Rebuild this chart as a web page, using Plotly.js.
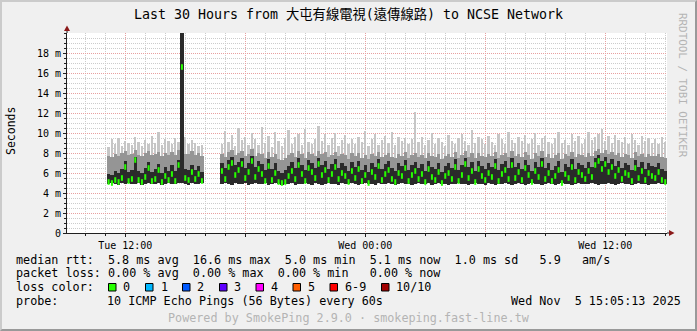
<!DOCTYPE html>
<html><head><meta charset="utf-8">
<script src="https://cdn.plot.ly/plotly-3.0.1.min.js"></script>
<style>
html,body{margin:0;padding:0;background:#f0f0f0;}
#wrap{position:relative;width:697px;height:331px;overflow:hidden;}
#chart{width:697px;height:331px;}
#frame{position:absolute;left:0;top:0;width:697px;height:331px;box-sizing:border-box;border-top:2px solid #cbcbcb;border-left:2px solid #cbcbcb;border-right:2px solid #999999;border-bottom:2px solid #999999;pointer-events:none;}
</style></head>
<body><div id="wrap"><div id="chart"></div><div id="frame"></div></div>
<script>
// ---------- sample times (RRD rows, 10 min) ----------
const tueTimes = [
'11:10','11:20','11:30','11:40','11:50',
'12:00','12:10','12:20','12:30','12:40','12:50',
'13:00','13:10','13:20','13:30','13:40','13:50',
'14:00','14:10','14:20','14:30','14:40','14:50',
'15:00','15:10','15:20','15:30','15:40','15:50',
'16:50',
'17:00','17:10','17:20','17:30','17:40','17:50',
'18:00','18:10','18:20','18:30','18:40','18:50',
'19:00','19:10','19:20','19:30','19:40','19:50',
'20:00','20:10','20:20','20:30','20:40','20:50',
'21:00','21:10','21:20','21:30','21:40','21:50',
'22:00','22:10','22:20','22:30','22:40','22:50',
'23:00','23:10','23:20','23:30','23:40','23:50'
];
const wedTimes = [
'00:00','00:10','00:20','00:30','00:40','00:50',
'01:00','01:10','01:20','01:30','01:40','01:50',
'02:00','02:10','02:20','02:30','02:40','02:50',
'03:00','03:10','03:20','03:30','03:40','03:50',
'04:00','04:10','04:20','04:30','04:40','04:50',
'05:00','05:10','05:20','05:30','05:40','05:50',
'06:00','06:10','06:20','06:30','06:40','06:50',
'07:00','07:10','07:20','07:30','07:40','07:50',
'08:00','08:10','08:20','08:30','08:40','08:50',
'09:00','09:10','09:20','09:30','09:40','09:50',
'10:00','10:10','10:20','10:30','10:40','10:50',
'11:00','11:10','11:20','11:30','11:40','11:50',
'12:00','12:10','12:20','12:30','12:40','12:50',
'13:00','13:10','13:20','13:30','13:40','13:50',
'14:00','14:10','14:20','14:30','14:40','14:50',
'15:00'
];

// ---------- RTT values in ms ----------
const rttMedian = [
5.1,5.0,5.3,5.1,5.5,6.6,5.2,5.4,7.3,5.3,5.1,5.6,6.5,5.2,5.4,6.3,5.1,5.7,5.3,5.9,5.2,6.8,16.6,5.5,5.3,6.1,5.4,5.9,5.2,
6.2,5.4,6.6,7.0,5.8,6.3,6.9,5.5,6.1,7.2,
5.6,6.4,5.9,5.2,6.7,5.3,6.0,5.1,5.0,5.1,
5.7,6.2,5.4,6.8,5.9,5.2,6.5,6.1,5.5,6.9,
5.8,6.3,5.3,5.9,6.6,5.4,6.0,5.7,5.1,6.2,
5.5,6.4,5.2,5.8,5.0,6.1,5.6,6.7,5.3,5.9,
6.3,5.4,5.1,6.0,5.7,6.5,5.2,5.8,6.2,5.4,
5.9,5.1,6.4,5.6,5.3,6.1,5.0,5.7,6.0,5.4,
6.6,5.2,5.8,6.9,5.5,6.2,5.1,6.4,5.7,5.3,
6.0,5.6,6.7,5.2,5.9,6.3,5.4,6.8,5.5,6.1,
5.3,6.5,5.8,5.1,6.2,5.6,6.9,5.4,6.0,5.2,
5.7,6.3,5.0,5.9,5.5,6.6,5.3,6.1,5.8,5.4,
6.2,5.6,6.8,7.2,6.4,6.9,6.1,6.6,5.7,6.3,
5.4,6.0,5.8,5.2,6.5,5.5,6.2,5.3,6.0,5.7,
5.5,6.1,5.3,5.1
];
const rttMin = [
4.9,5.0,4.9,4.8,5.0,4.9,5.0,4.9,4.9,5.0,4.8,4.9,5.0,4.9,4.9,5.0,4.8,4.9,5.0,4.9,4.9,5.0,5.0,4.9,4.8,5.0,4.9,4.9,5.0,
4.9,5.0,4.9,4.8,5.0,4.9,4.9,5.0,4.8,4.9,
5.0,4.9,4.9,5.0,4.8,4.9,5.0,4.9,4.8,4.9,
4.9,5.0,4.8,4.9,4.9,5.0,4.9,4.8,5.0,4.9,
4.8,4.9,5.0,4.9,4.9,4.8,5.0,4.9,4.9,5.0,
4.9,4.8,4.9,5.0,4.9,4.9,4.8,5.0,4.9,4.9,
5.0,4.9,4.8,4.9,5.0,4.9,4.9,4.8,4.9,5.0,
4.9,4.9,5.0,4.8,4.9,5.0,4.9,4.9,4.8,4.9,
4.9,5.0,4.9,4.9,4.8,4.9,5.0,4.9,4.9,4.8,
5.0,4.9,4.8,4.9,4.9,5.0,4.9,4.8,4.9,5.0,
4.9,4.8,4.9,5.0,4.9,4.9,4.8,4.9,5.0,4.9,
4.8,4.9,5.0,4.9,4.9,4.8,4.9,5.0,4.9,4.9,
4.9,5.0,4.9,4.8,4.9,4.9,5.0,4.9,4.8,4.9,
5.0,4.9,4.9,4.8,4.9,5.0,4.9,4.9,4.8,4.9,
4.9,5.0,4.9,4.9
];
const rttCore = [
5.9,5.8,6.2,6.0,6.4,7.2,6.1,6.3,7.6,6.2,6.0,6.5,7.1,6.1,6.4,6.9,6.0,6.6,6.2,6.8,6.2,7.3,20.5,6.4,6.3,6.8,6.3,6.7,6.1,
7.0,6.5,7.3,7.6,6.8,7.1,7.5,6.5,7.0,7.7,
6.6,7.2,6.9,6.3,7.4,6.4,7.0,6.2,6.0,6.3,
6.7,7.1,6.5,7.5,6.8,6.3,7.3,7.0,6.5,7.5,
6.8,7.2,6.4,6.9,7.4,6.5,7.0,6.7,6.2,7.1,
6.6,7.2,6.3,6.8,6.1,7.0,6.6,7.4,6.4,6.9,
7.2,6.5,6.2,7.0,6.7,7.3,6.3,6.8,7.1,6.5,
6.9,6.2,7.2,6.6,6.4,7.0,6.1,6.7,7.0,6.5,
7.4,6.3,6.8,7.5,6.6,7.1,6.2,7.2,6.7,6.4,
7.0,6.6,7.4,6.3,6.9,7.2,6.5,7.5,6.6,7.0,
6.4,7.3,6.8,6.2,7.1,6.6,7.5,6.5,7.0,6.3,
6.7,7.2,6.1,6.9,6.6,7.4,6.4,7.0,6.8,6.5,
7.1,6.6,7.5,7.8,7.2,7.6,7.0,7.4,6.7,7.2,
6.5,7.0,6.8,6.3,7.3,6.6,7.1,6.4,7.0,6.7,
6.6,7.0,6.4,6.2
];
const rttUpper = [
7.7,7.6,7.9,7.7,8.0,8.2,7.8,7.9,8.3,7.8,7.7,8.0,8.2,7.8,7.9,8.1,7.7,8.0,7.8,8.1,7.8,8.3,21.0,7.9,7.9,8.2,7.8,8.0,7.7,
7.9,7.6,8.1,8.3,7.8,8.0,8.2,7.7,7.9,8.4,
7.7,8.0,7.9,7.5,8.1,7.6,7.9,7.4,7.3,7.5,
7.8,8.0,7.6,8.2,7.9,7.5,8.1,7.9,7.7,8.2,
7.9,8.1,7.6,7.8,8.1,7.7,7.9,7.8,7.4,8.0,
7.7,8.0,7.5,7.8,7.4,7.9,7.7,8.1,7.6,7.8,
8.0,7.6,7.5,7.9,7.7,8.1,7.5,7.8,8.0,7.6,
7.8,7.5,8.0,7.7,7.6,7.9,7.4,7.7,7.9,7.6,
8.1,7.5,7.8,8.2,7.6,8.0,7.5,8.0,7.7,7.6,
7.9,7.7,8.1,7.5,7.8,8.0,7.6,8.2,7.7,7.9,
7.6,8.1,7.8,7.4,8.0,7.7,8.2,7.6,7.9,7.5,
7.8,8.0,7.4,7.9,7.7,8.1,7.6,7.9,7.8,7.6,
8.0,7.7,8.2,8.4,8.0,8.3,7.9,8.1,7.8,8.0,
7.6,7.9,7.8,7.5,8.1,7.7,7.9,7.6,7.9,7.7,
7.7,7.9,7.6,7.5
];
const rttMax = [
8.6,9.4,8.9,9.5,8.7,9.2,9.0,8.8,9.6,9.1,8.7,9.3,8.9,9.7,9.0,10.1,8.8,9.4,9.2,8.9,9.5,9.1,21.5,9.6,8.9,9.3,9.0,8.7,8.8,
8.9,10.2,9.1,9.8,8.7,10.5,9.3,9.6,8.8,10.0,
9.4,8.8,10.6,9.0,9.7,8.6,10.1,9.2,8.7,9.5,
10.3,8.9,9.6,9.9,8.8,10.4,9.1,8.9,9.4,10.7,
9.2,9.9,8.8,9.5,10.0,8.7,9.3,9.8,8.9,9.4,
8.9,9.6,9.1,10.2,8.7,9.4,9.9,8.8,9.3,9.7,
9.0,10.1,8.8,9.6,9.2,9.5,8.9,9.4,12.1,9.1,
9.6,8.8,9.3,10.0,8.9,9.5,9.1,8.7,9.8,9.2,
8.9,9.5,9.9,9.2,8.8,10.3,9.0,9.6,9.4,8.9,
9.7,9.1,8.8,9.9,9.4,8.9,10.1,9.3,9.0,9.6,
9.2,9.8,8.9,9.4,10.0,8.8,9.5,9.7,9.1,8.9,
9.5,10.1,9.0,9.3,8.8,9.9,9.2,9.7,8.9,9.4,
10.1,9.3,9.6,9.9,10.4,9.2,9.7,9.0,9.8,9.3,
9.1,9.6,8.9,9.9,9.3,8.8,9.7,9.2,9.5,9.0,
9.4,8.9,9.6,9.1
];

// ---------- axis ticks ----------
const xRange = ['2025-11-04 09:05:13','2025-11-05 15:05:13'];
const xTickVals = ['2025-11-04 12:00','2025-11-04 18:00','2025-11-05 00:00','2025-11-05 06:00','2025-11-05 12:00'];
const xTickText = ['Tue 12:00','','Wed 00:00','','Wed 12:00'];
const yTickVals = [0,2,4,6,8,10,12,14,16,18];
const yTickText = ['0','2 m','4 m','6 m','8 m','10 m','12 m','14 m','16 m','18 m'];

// ---------- texts ----------
const titleText = 'Last 30 Hours from 大屯有線電視(遠傳線路) to NCSE Network';
const yTitle = 'Seconds';
const sideText = 'RRDTOOL / TOBI OETIKER';
const rttLine = 'median rtt:  5.8 ms avg  16.6 ms max  5.0 ms min  5.1 ms now  1.0 ms sd   5.9   am/s';
const lossLine = 'packet loss: 0.00 % avg  0.00 % max  0.00 % min   0.00 % now';
const lossTitle = 'loss color:';
const lossLabels = ['0','1','2','3','4','5','6-9','10/10'];
const lossColors = ['#26ff00','#00b8ff','#0059ff','#5e00ff','#ff00ff','#ff5e00','#ff0000','#a10000'];
const probeTitle = 'probe:';
const probeText = '10 ICMP Echo Pings (56 Bytes) every 60s';
const dateText = 'Wed Nov  5 15:05:13 2025';
const poweredText = 'Powered by SmokePing 2.9.0 · smokeping.fast-line.tw';

// ---------- build ----------
const times = tueTimes.map(t => '2025-11-04 ' + t).concat(wedTimes.map(t => '2025-11-05 ' + t));
const FONT = '"DejaVu Sans Mono", "Noto Sans CJK TC", monospace';
const L = 67, T = 33, PW = 600, PH = 200;
const px = v => (v - L) / PW;
const py = v => (T + PH - v) / PH;
const nb = s => s.replace(/ /g, '\u00a0');

function band(top, color, w) {
  return {type:'bar', x:times, base:rttMin, y:top.map((v,i) => v - rttMin[i]),
          width:w, marker:{color:color, line:{width:0}}, hoverinfo:'skip'};
}
const traces = [
  band(rttMax, '#c6c6c6', 420000),
  band(rttUpper, '#959595', 600000),
  band(rttCore, '#2a2a2a', 600000),
  {type:'scatter', mode:'markers', x:times, y:rttMedian, hoverinfo:'skip',
   marker:{symbol:'line-ns', size:4, color:'#26ff00', line:{color:'#26ff00', width:2}}}
];

const ann = [];
function txt(text, x, y, opts) {
  ann.push(Object.assign({text:nb(text), xref:'paper', yref:'paper', x:px(x), y:py(y),
    xanchor:'left', yanchor:'middle', showarrow:false, borderpad:0, borderwidth:0,
    font:{family:FONT, size:11.75, color:'#000000'}}, opts || {}));
}
txt(yTitle, 11, 131, {xanchor:'center', textangle:-90, font:{family:FONT, size:11.5, color:'#000'}});
txt(sideText, 683, 85, {xanchor:'center', textangle:90, font:{family:FONT, size:10.9, color:'#b4b4b4'}});
txt(rttLine, 16, 259.5);
txt(lossLine, 16, 273);
txt(lossTitle, 16, 287);
const boxX = [108.5,145.5,182.5,219.5,256,293,330,381.5];
const labX = [123.3,160.7,197.3,234.3,271,308.3,345,396];
const shapes = [];
lossLabels.forEach((lab, i) => {
  txt(lab, labX[i], 287);
  shapes.push({type:'rect', xref:'paper', yref:'paper', x0:px(boxX[i]), x1:px(boxX[i]+7.5),
    y0:py(291), y1:py(283.5), fillcolor:lossColors[i], line:{color:'#000000', width:1}});
});
txt(probeTitle, 16, 301);
txt(probeText, 107.3, 301);
txt(dateText, 681, 301, {xanchor:'right'});
txt(poweredText, 348.5, 318, {xanchor:'center', font:{family:FONT, size:11.75, color:'#b4b4b4'}});

// axis extensions and arrowheads
shapes.push({type:'line', xref:'paper', yref:'paper', x0:0, x1:0, y0:1, y1:py(30), line:{color:'#202020', width:1}});
shapes.push({type:'line', xref:'paper', yref:'paper', x0:1, x1:px(669), y0:0, y1:0, line:{color:'#202020', width:1}});
shapes.push({type:'path', xref:'paper', yref:'paper',
  path:`M ${px(67)} ${py(25.5)} L ${px(64)} ${py(31)} L ${px(70)} ${py(31)} Z`, fillcolor:'#8b1a1a', line:{width:0}});
shapes.push({type:'path', xref:'paper', yref:'paper',
  path:`M ${px(674.5)} ${py(233)} L ${px(669)} ${py(230)} L ${px(669)} ${py(236)} Z`, fillcolor:'#8b1a1a', line:{width:0}});

const layout = {
  width:697, height:331,
  margin:{l:L, r:697-L-PW, t:T, b:331-T-PH, pad:0},
  paper_bgcolor:'#f0f0f0', plot_bgcolor:'#ffffff',
  showlegend:false, barmode:'overlay', bargap:0, hovermode:false,
  font:{family:FONT, size:11.75, color:'#000000'},
  title:{text:titleText, font:{family:FONT, size:13.3, color:'#000000'},
         xref:'container', yref:'container', x:0.5, y:1-14.5/331, xanchor:'center', yanchor:'middle'},
  xaxis:{type:'date', range:xRange, tickmode:'array', tickvals:xTickVals, ticktext:xTickText,
    showgrid:true, gridcolor:'#e8a0a0', griddash:'1px,1px', gridwidth:1,
    ticks:'outside', ticklen:3, tickcolor:'#202020', tickwidth:1,
    tickfont:{family:FONT, size:10, color:'#000'},
    showline:true, linecolor:'#202020', linewidth:1, zeroline:false, fixedrange:true, automargin:false,
    minor:{tickmode:'linear', tick0:'2025-11-04 00:00', dtick:3600000, showgrid:true,
      gridcolor:'#cccccc', griddash:'1px,1px', gridwidth:1, ticks:'outside', ticklen:2, tickcolor:'#202020'}},
  yaxis:{range:[0,20], tickmode:'array', tickvals:yTickVals, ticktext:yTickText,
    showgrid:true, gridcolor:'#e8a0a0', griddash:'1px,1px', gridwidth:1,
    ticks:'outside', ticklen:3, tickcolor:'#202020', tickwidth:1,
    tickfont:{family:FONT, size:10, color:'#000'},
    showline:true, linecolor:'#202020', linewidth:1, zeroline:false, fixedrange:true, automargin:false,
    minor:{tickmode:'linear', tick0:0, dtick:0.5, showgrid:true,
      gridcolor:'#cccccc', griddash:'1px,1px', gridwidth:1, ticks:'outside', ticklen:2, tickcolor:'#202020'}},
  annotations:ann, shapes:shapes
};
Plotly.newPlot('chart', traces, layout, {staticPlot:true, displayModeBar:false});
</script></body></html>
